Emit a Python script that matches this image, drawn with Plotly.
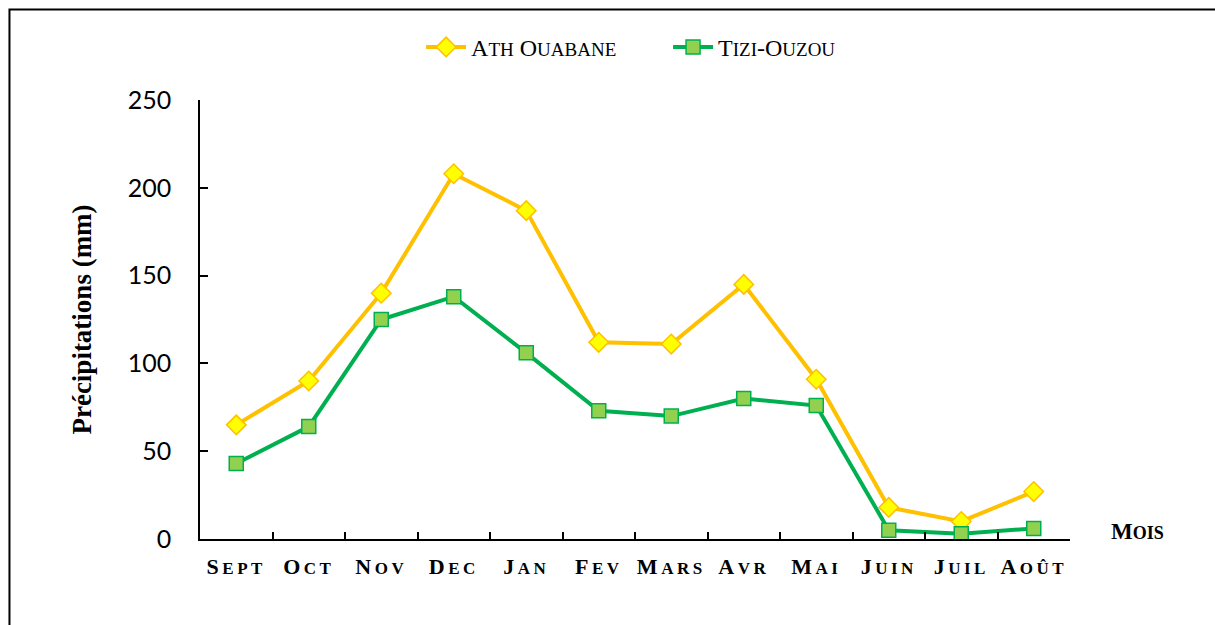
import plotly.graph_objects as go

months = ["Sept", "Oct", "Nov", "Dec", "Jan", "Fev", "Mars", "Avr", "Mai", "Juin", "Juil", "Août"]
ath_ouabane = [65, 90, 140, 208, 187, 112, 111, 145, 91, 18, 10, 27]
tizi_ouzou = [43, 64, 125, 138, 106, 73, 70, 80, 76, 5, 3, 6]
series_names = ["Ath Ouabane", "Tizi-Ouzou"]
y_ticks = [0, 50, 100, 150, 200, 250]

BIG = 22
SMALL = 17
SERIF = "Liberation Serif"


def small_caps(text, small=SMALL, spacing=None):
    """Render text in small caps: capitals stay large, lower-case become smaller capitals."""
    out = []
    buf = ""
    for ch in text:
        if ch.islower():
            buf += ch.upper()
        else:
            if buf:
                out.append(f'<span style="font-size:{small}px">{buf}</span>')
                buf = ""
            out.append(ch)
    if buf:
        out.append(f'<span style="font-size:{small}px">{buf}</span>')
    s = "".join(out)
    if spacing:
        s = f'<span style="letter-spacing:{spacing}px">{s}</span>'
    return s


tick_text = [small_caps(m, SMALL, 3.5) for m in months]

fig = go.Figure()
fig.add_trace(go.Scatter(
    x=months, y=ath_ouabane, name=small_caps(series_names[0], 19),
    mode="lines+markers",
    line=dict(color="#FFC000", width=4),
    marker=dict(symbol="diamond", size=15, color="#FFFF00",
                line=dict(color="#FFC000", width=1.5)),
))
fig.add_trace(go.Scatter(
    x=months, y=tizi_ouzou, name=small_caps(series_names[1], 19),
    mode="lines+markers",
    line=dict(color="#00B050", width=4),
    marker=dict(symbol="square", size=14, color="#92D050",
                line=dict(color="#00B050", width=1.5)),
))

fig.update_layout(
    width=1215, height=625,
    margin=dict(l=200, r=145, t=100, b=86),
    paper_bgcolor="white", plot_bgcolor="white",
    showlegend=True,
    legend=dict(orientation="h", x=0.538, xanchor="center", y=1.12, yanchor="middle",
                font=dict(family=SERIF, size=24, color="black"),
                itemwidth=40, entrywidth=192, bgcolor="rgba(0,0,0,0)"),
    xaxis=dict(
        type="category", range=[-0.5, 11.5], automargin=False,
        tickmode="array", tickvals=months, ticktext=tick_text, tickangle=0,
        tickson="boundaries", ticks="inside", ticklen=7, tickwidth=1.5, tickcolor="black",
        showline=True, linecolor="black", linewidth=1.5,
        showgrid=False, zeroline=False,
        tickfont=dict(family=SERIF, size=BIG, color="black", weight="bold"),
        ticklabelstandoff=7,
    ),
    yaxis=dict(
        range=[0, 250], tickvals=y_ticks, automargin=False,
        ticks="inside", ticklen=8, tickwidth=1.5, tickcolor="black",
        showline=True, linecolor="black", linewidth=1.5,
        showgrid=False, zeroline=False,
        tickfont=dict(family="Lato", size=25, color="black"),
        ticklabelstandoff=22,
        title=dict(text="Précipitations (mm)",
                   font=dict(family=SERIF, size=27, color="black", weight="bold"),
                   standoff=28),
    ),
    annotations=[dict(
        text=small_caps("Mois", 18), x=1.078, y=0.018, xref="paper", yref="paper",
        showarrow=False, xanchor="center", yanchor="middle",
        font=dict(family=SERIF, size=23, color="black", weight="bold"),
    )],
    shapes=[dict(
        type="rect", xref="paper", yref="paper",
        x0=-0.219, x1=1.18, y0=-0.22, y1=1.206,
        line=dict(color="black", width=2), fillcolor="rgba(0,0,0,0)", layer="below",
    )],
)

fig.write_html("out.html", config={"displayModeBar": False},
               post_script="document.body.style.margin='0px';")
